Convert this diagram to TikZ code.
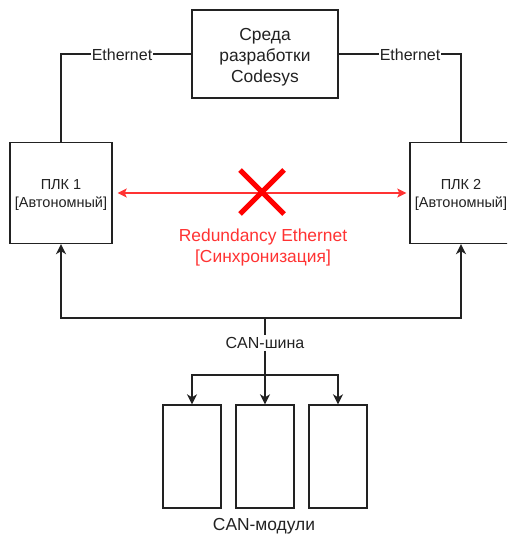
\documentclass[tikz,border=0pt]{standalone}
\usepackage{fontspec}
\setmainfont{Liberation Sans}
\usetikzlibrary{arrows.meta,shapes.misc}
\definecolor{redline}{HTML}{FF3333}
\definecolor{ink}{HTML}{222222}
\begin{document}
\begin{tikzpicture}[x=1pt,y=-1pt,
  box/.style={draw=ink,line width=1.4pt,inner sep=0pt},
  txt/.style={text=ink,align=center,inner sep=0pt},
  conn/.style={draw=ink,line width=1.4pt},
  tip/.style={-{Stealth[length=10pt,width=10pt,inset=3pt]}},
  lbl/.style={text=ink,font=\fontsize{16}{19}\selectfont,inner sep=2pt},
  big/.style={font=\fontsize{17.4}{21}\selectfont},
  small/.style={font=\fontsize{14.5}{18}\selectfont}
]
\useasboundingbox (0,0) rectangle (507,537);
\clip (0,0) rectangle (507,537);
\fill[white] (0,0) rectangle (507,537);

% boxes
\node[box,minimum width=146pt,minimum height=88pt] (ide) at (265,54) {};
\node[txt,big] (idetext) at (265,57) {Среда\\разработки\\Codesys};
\node[box,minimum width=102pt,minimum height=101pt] (plc1) at (61,193) {};
\node[txt,small] (plc1text) at (61,195) {ПЛК 1\\{[}Автономный{]}};
\node[box,minimum width=102pt,minimum height=101pt] (plc2) at (461,193) {};
\node[txt,small] (plc2text) at (461,195) {ПЛК 2\\{[}Автономный{]}};
\node[box,minimum width=58pt,minimum height=103pt] (m1) at (192,456.5) {};
\node[box,minimum width=58pt,minimum height=103pt] (m2) at (265,456.5) {};
\node[box,minimum width=58pt,minimum height=103pt] (m3) at (338,456.5) {};
\node[txt,big] (mods) at (264,526) {CAN-модули};

% Ethernet links
\coordinate (e1) at (61,54);
\coordinate (e2) at (461,54);
\draw[conn] (ide.west) -- (e1) -- (plc1.north);
\draw[conn] (ide.east) -- (e2) -- (plc2.north);
\node[lbl,fill=white,inner sep=1pt] (eth1) at (122,55) {Ethernet};
\node[lbl,fill=white,inner sep=1pt] (eth2) at (410,55) {Ethernet};

% redundancy link
\draw[redline,line width=1.2pt,{Stealth[length=9pt,width=9pt,inset=2pt]}-{Stealth[length=9pt,width=9pt,inset=2pt]}]
  ([xshift=5pt]plc1.east) -- ([xshift=-3pt]plc2.west);
\node[cross out,draw=red,line width=5pt,minimum size=39pt,inner sep=0pt] (xmark) at (262,192) {};
\node[text=redline,big,align=center] (redun) at (263,248) {Redundancy Ethernet\\{[}Синхронизация{]}};

% CAN bus
\coordinate (bus) at (265,318);
\coordinate (split) at (265,375);
\node[lbl] (can) at (265,343) {CAN-шина};
\draw[conn,tip] (bus) -| (plc1.south);
\draw[conn,tip] (bus) -| (plc2.south);
\draw[conn] (bus) -- (can.north);
\draw[conn,tip] (can.south) -- (m2.north);
\draw[conn,tip] (split) -| (m1.north);
\draw[conn,tip] (split) -| (m3.north);
\end{tikzpicture}
\end{document}
